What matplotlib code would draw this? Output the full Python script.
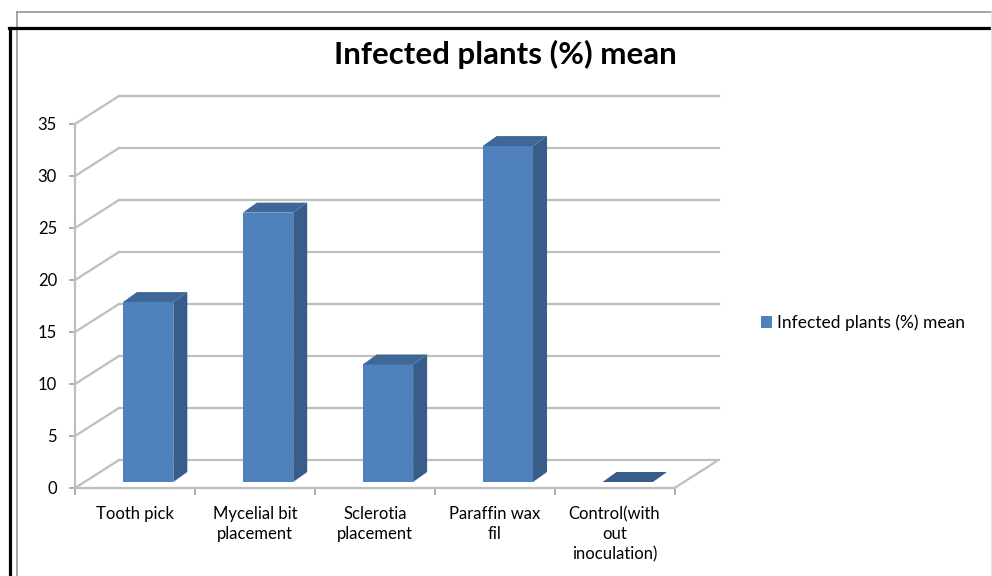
import matplotlib
matplotlib.use('Agg')
import matplotlib.pyplot as plt
from matplotlib.patches import Polygon, Patch
from matplotlib.lines import Line2D

# ---- data ----
categories = ['Tooth pick', 'Mycelial bit\nplacement', 'Sclerotia\nplacement',
              'Paraffin wax\nfil', 'Control(with\nout\ninoculation)']
values = [17.3, 25.9, 11.3, 32.3, 0.0]
yticks = [0, 5, 10, 15, 20, 25, 30, 35]
series_name = 'Infected plants (%) mean'
title = 'Infected plants (%) mean'

FONT = ['Lato', 'DejaVu Sans']
plt.rcParams['font.family'] = FONT

W, H = 992, 576
fig = plt.figure(figsize=(W / 100, H / 100), dpi=100)
fig.patch.set_facecolor('white')

# plot area (front planes)
ax_l, ax_b, ax_w, ax_h = 75, 88, 599.5, 364
ax = fig.add_axes([ax_l / W, ax_b / H, ax_w / W, ax_h / H])
n = len(categories)
ymax = yticks[-1]
ax.set_xlim(0, n)
ax.set_ylim(0, ymax)
ax.patch.set_visible(False)

sx = n / ax_w      # data units per pixel (x)
sy = ymax / ax_h   # data units per pixel (y)

grid_c = '#BFBFBF'
Dx, Dy = 44 * sx, 28 * sy          # full depth of the 3D box
# back wall gridlines + left side wall diagonals
for v in yticks:
    ax.plot([Dx, n + Dx], [v + Dy, v + Dy], color=grid_c, lw=1.6, clip_on=False, zorder=1)
    ax.plot([0, Dx], [v, v + Dy], color=grid_c, lw=1.6, clip_on=False, zorder=1)
# floor right edge
ax.plot([n, n + Dx], [0, Dy], color=grid_c, lw=1.6, clip_on=False, zorder=1)

# bars
front_c = '#4F81BD'
side_c = '#385D8A'
top_c = '#3F6898'
bl, br = 0.40, 0.82                 # front face within category
dyf = 6 * sy                        # front face elevation due to depth
sdx, sdy = 14 * sx, 10 * sy         # bar depth
for i, v in enumerate(values):
    l, r = i + bl, i + br
    b0, t0 = dyf, dyf + v
    if v > 0:
        ax.add_patch(Polygon([(l, b0), (r, b0), (r, t0), (l, t0)], closed=True,
                             facecolor=front_c, edgecolor='none', clip_on=False, zorder=3))
        ax.add_patch(Polygon([(r, b0), (r + sdx, b0 + sdy), (r + sdx, t0 + sdy), (r, t0)],
                             closed=True, facecolor=side_c, edgecolor='none',
                             clip_on=False, zorder=3))
    ax.add_patch(Polygon([(l, t0), (l + sdx, t0 + sdy), (r + sdx, t0 + sdy), (r, t0)],
                         closed=True, facecolor=top_c if v > 0 else side_c,
                         edgecolor='none', clip_on=False, zorder=3))

# axes styling
for s in ['top', 'right']:
    ax.spines[s].set_visible(False)
for s in ['left', 'bottom']:
    ax.spines[s].set_color(grid_c)
    ax.spines[s].set_linewidth(1.6)
    ax.spines[s].set_zorder(2)

ax.set_yticks(yticks)
ax.set_yticklabels([str(t) for t in yticks])
ax.tick_params(axis='y', direction='out', length=4, width=1.2, color='#A0A0A0',
               labelsize=12, pad=9, labelcolor='black')

ax.set_xticks(list(range(n + 1)))
ax.set_xticklabels([''] * (n + 1))
ax.set_xticks([i + 0.5 for i in range(n)], minor=True)
ax.set_xticklabels(categories, minor=True, fontsize=12, linespacing=1.32)
ax.tick_params(axis='x', which='major', direction='out', length=5, width=1.2, color='#A0A0A0')
ax.tick_params(axis='x', which='minor', length=0, pad=13, labelcolor='black')

# title
fig.text(505 / W, 1 - 54 / H, title, ha='center', va='center',
         fontsize=22.5, fontweight='bold', color='black')

# legend
fig.legend(handles=[Patch(facecolor=front_c, edgecolor='none', label=series_name)],
           loc='center left', bbox_to_anchor=(761 / W, 1 - 323 / H), frameon=False,
           fontsize=12.5, handlelength=0.65, handleheight=0.65, handletextpad=0.25,
           borderpad=0, borderaxespad=0)

# page borders
def fline(xs, ys, **kw):
    fig.add_artist(Line2D([x / W for x in xs], [1 - y / H for y in ys],
                          transform=fig.transFigure, **kw))

fline([17, W], [12, 12], color='#8C8C8C', lw=1.1)
fline([17, 17], [12, H], color='#8C8C8C', lw=1.1)
fline([9, W], [28, 28], color='black', lw=2.3)
fline([9.5, 9.5], [28, H], color='black', lw=2.3)
fline([W - 1.5, W - 1.5], [12, H], color='#E6E6E6', lw=1)

fig.savefig('out.png', dpi=100, facecolor='white')
